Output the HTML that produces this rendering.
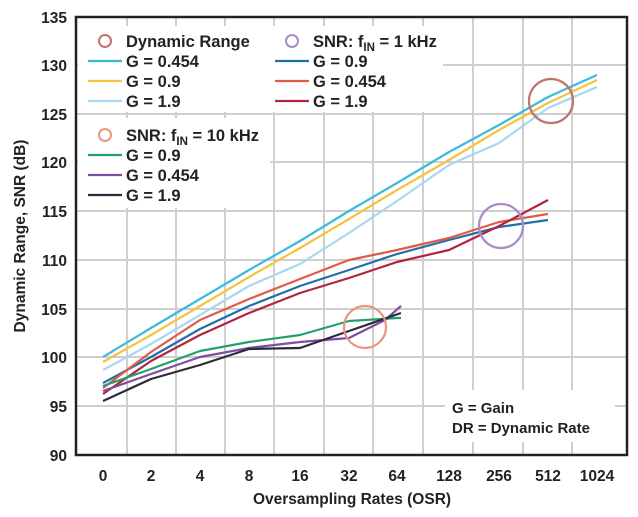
<!DOCTYPE html>
<html><head><style>
body{margin:0;background:#fff;}
svg{display:block;font-family:"Liberation Sans",sans-serif;font-weight:bold;}
</style></head><body>
<svg width="638" height="517" viewBox="0 0 638 517">
<rect width="638" height="517" fill="#fff"/>
<g stroke="#cfcfcf" stroke-width="2">
<line x1="75" x2="627" y1="65" y2="65"/><line x1="75" x2="627" y1="114" y2="114"/>
<line x1="75" x2="627" y1="162" y2="162"/><line x1="75" x2="627" y1="211" y2="211"/>
<line x1="75" x2="627" y1="260" y2="260"/><line x1="75" x2="627" y1="309" y2="309"/>
<line x1="75" x2="627" y1="357" y2="357"/><line x1="75" x2="627" y1="406" y2="406"/>
<line y1="17" y2="455" x1="127" x2="127"/><line y1="17" y2="455" x1="176" x2="176"/>
<line y1="17" y2="455" x1="225" x2="225"/><line y1="17" y2="455" x1="274" x2="274"/>
<line y1="17" y2="455" x1="324" x2="324"/><line y1="17" y2="455" x1="373" x2="373"/>
<line y1="17" y2="455" x1="423" x2="423"/><line y1="17" y2="455" x1="473" x2="473"/>
<line y1="17" y2="455" x1="523" x2="523"/><line y1="17" y2="455" x1="572" x2="572"/>
</g>
<rect x="78" y="26" width="365" height="86" fill="#fff"/>
<rect x="78" y="118" width="192" height="90" fill="#fff"/>
<rect x="445" y="390" width="170" height="52" fill="#fff"/>
<g fill="none" stroke-width="2.2" stroke-linejoin="round">
<polyline stroke="#3bbbd9" points="103,357 151,328 200,299 249,270 300,241 349,211 397,183 449,152 499,125 548,97 597,75"/>
<polyline stroke="#f5c342" points="103,362 151,335 200,306 249,277 300,248 349,219 397,190 449,160 499,130 548,103 597,80"/>
<polyline stroke="#a8d8ee" points="103,370 151,344 200,315 249,286 300,264 349,233 397,201 449,165 499,143 548,108 597,87"/>
<polyline stroke="#1f6fa8" points="103,383 151,357 200,329 249,306 300,286 349,270 397,254 449,240 499,227 548,220"/>
<polyline stroke="#e05a45" points="103,388 151,352 200,320 249,299 300,279 349,260 397,250 449,238 499,222 548,214"/>
<polyline stroke="#b0263f" points="103,394 151,361 200,335 249,313 300,293 349,278 397,262 449,250 499,226 548,200"/>
<polyline stroke="#22a06b" points="103,386 151,369 200,351 249,342 300,335 349,321 397,318 401,318"/>
<polyline stroke="#7e4ea0" points="103,391 151,374 200,357 249,348 300,342 349,338 385,320 401,306"/>
<polyline stroke="#2b2b3b" points="103,401 151,379 200,365 249,349 300,348 349,331 401,313"/>
</g>
<g fill="none" stroke-width="2.2">
<circle cx="551" cy="101" r="22" stroke="#c0736f"/>
<circle cx="501" cy="226" r="22" stroke="#a98cc7"/>
<circle cx="365" cy="327" r="21" stroke="#e8967a"/>
</g>
<rect x="76" y="17" width="551" height="438" fill="none" stroke="#222" stroke-width="2.5"/>
<g font-size="15.5" fill="#222" text-anchor="end">
<text x="67" y="23">135</text><text x="67" y="71">130</text><text x="67" y="120">125</text>
<text x="67" y="168">120</text><text x="67" y="217">115</text><text x="67" y="266">110</text>
<text x="67" y="315">105</text><text x="67" y="363">100</text><text x="67" y="412">95</text>
<text x="67" y="461">90</text>
</g>
<g font-size="15.5" fill="#222" text-anchor="middle">
<text x="103" y="481">0</text><text x="151" y="481">2</text><text x="200" y="481">4</text>
<text x="249" y="481">8</text><text x="300" y="481">16</text><text x="349" y="481">32</text>
<text x="397" y="481">64</text><text x="449" y="481">128</text><text x="499" y="481">256</text>
<text x="548" y="481">512</text><text x="597" y="481">1024</text>
<text x="352" y="504">Oversampling Rates (OSR)</text>
<text transform="translate(25,236) rotate(-90)">Dynamic Range, SNR (dB)</text>
</g>
<g font-size="16.5" fill="#222">
<circle cx="105" cy="41" r="6" fill="none" stroke="#c0736f" stroke-width="2"/>
<text x="126" y="47">Dynamic Range</text>
<line x1="88" x2="122" y1="61" y2="61" stroke="#3bbbd9" stroke-width="2.2"/><text x="126" y="67">G =  0.454</text>
<line x1="88" x2="122" y1="81" y2="81" stroke="#f5c342" stroke-width="2.2"/><text x="126" y="87">G = 0.9</text>
<line x1="88" x2="122" y1="101" y2="101" stroke="#a8d8ee" stroke-width="2.2"/><text x="126" y="107">G = 1.9</text>
<circle cx="292" cy="41" r="6" fill="none" stroke="#a98cc7" stroke-width="2"/>
<text x="313" y="47">SNR: f<tspan font-size="11.5" dy="4">IN</tspan><tspan dy="-4"> = 1 kHz</tspan></text>
<line x1="275" x2="309" y1="61" y2="61" stroke="#1f6fa8" stroke-width="2.2"/><text x="313" y="67">G =  0.9</text>
<line x1="275" x2="309" y1="81" y2="81" stroke="#e05a45" stroke-width="2.2"/><text x="313" y="87">G = 0.454</text>
<line x1="275" x2="309" y1="101" y2="101" stroke="#b0263f" stroke-width="2.2"/><text x="313" y="107">G = 1.9</text>
<circle cx="105" cy="135" r="6" fill="none" stroke="#e8967a" stroke-width="2"/>
<text x="126" y="141">SNR: f<tspan font-size="11.5" dy="4">IN</tspan><tspan dy="-4"> = 10 kHz</tspan></text>
<line x1="88" x2="122" y1="155" y2="155" stroke="#22a06b" stroke-width="2.2"/><text x="126" y="161">G =  0.9</text>
<line x1="88" x2="122" y1="175" y2="175" stroke="#7e4ea0" stroke-width="2.2"/><text x="126" y="181">G = 0.454</text>
<line x1="88" x2="122" y1="195" y2="195" stroke="#2b2b3b" stroke-width="2.2"/><text x="126" y="201">G = 1.9</text>
<text x="452" y="413" font-size="15">G = Gain</text>
<text x="452" y="433" font-size="15">DR = Dynamic Rate</text>
</g>
</svg>
</body></html>
